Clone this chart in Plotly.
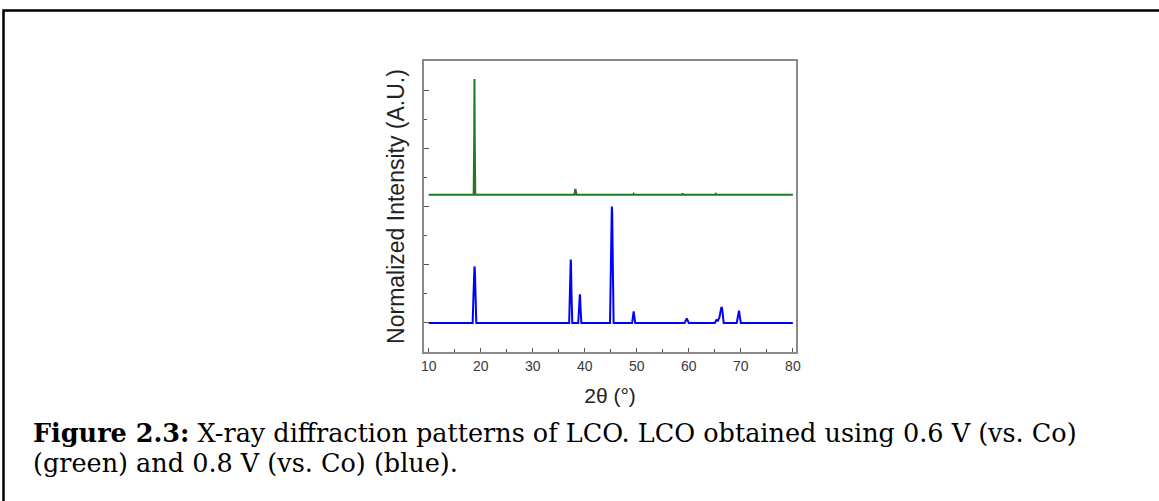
import plotly.graph_objects as go

# ---- data ----
two_theta_blue = [10.0, 18.45, 18.6, 18.72, 18.8, 18.88, 19.0, 19.15,
                  37.0, 37.15, 37.25, 37.3, 37.35, 37.45, 37.6,
                  38.75, 38.9, 39.0, 39.05, 39.1, 39.2, 39.35,
                  44.85, 45.0, 45.13, 45.2, 45.27, 45.4, 45.55,
                  49.1, 49.25, 49.4, 49.55, 49.7,
                  59.2, 59.4, 59.6, 59.8, 60.0,
                  65.0, 65.3, 65.6, 65.9, 66.2, 66.3, 66.4, 66.55, 66.7,
                  69.2, 69.4, 69.55, 69.65, 69.8, 70.0,
                  80.0]
intensity_blue = [0.0, 0.0, 0.45, 0.9, 0.97, 0.9, 0.45, 0.0,
                  0.0, 0.5, 1.02, 1.09, 1.02, 0.5, 0.0,
                  0.0, 0.24, 0.46, 0.49, 0.46, 0.24, 0.0,
                  0.0, 0.95, 1.9, 2.0, 1.9, 0.95, 0.0,
                  0.0, 0.1, 0.2, 0.1, 0.0,
                  0.0, 0.04, 0.075, 0.04, 0.0,
                  0.0, 0.05, 0.04, 0.1, 0.25, 0.27, 0.25, 0.1, 0.0,
                  0.0, 0.11, 0.21, 0.21, 0.11, 0.0,
                  0.0]

two_theta_green = [10.0, 18.65, 18.75, 18.8, 18.85, 18.95,
                   38.0, 38.1, 38.2, 38.3, 38.4,
                   49.3, 49.4, 49.5,
                   58.7, 58.8, 58.9,
                   65.1, 65.2, 65.3,
                   80.0]
intensity_green = [0.0, 0.0, 1.0, 1.99, 1.0, 0.0,
                   0.0, 0.06, 0.1, 0.06, 0.0,
                   0.0, 0.015, 0.0,
                   0.0, 0.025, 0.0,
                   0.0, 0.015, 0.0,
                   0.0]
green_offset = 2.2

x_ticks = [10, 20, 30, 40, 50, 60, 70, 80]
x_title = "2θ (°)"
y_title = "Normalized Intensity (A.U.)"
caption_line1 = "<b>Figure 2.3:</b> X-ray diffraction patterns of LCO. LCO obtained using 0.6 V (vs. Co)"
caption_line2 = "(green) and 0.8 V (vs. Co) (blue)."

# ---- layout geometry (pixels) ----
W, H = 1159, 501
ML, MR, MT, MB = 424, 363, 61, 149
PW = W - ML - MR
PH = H - MT - MB


def px(x):
    return (x - ML) / PW


def py(y):
    return (H - MB - y) / PH


fig = go.Figure()
fig.add_trace(go.Scatter(
    x=two_theta_green,
    y=[v + green_offset for v in intensity_green],
    mode="lines", line=dict(color="#1f7a1f", width=2),
    showlegend=False, hoverinfo="skip"))
fig.add_trace(go.Scatter(
    x=two_theta_blue, y=intensity_blue,
    mode="lines", line=dict(color="#0000ff", width=2),
    showlegend=False, hoverinfo="skip"))

axis_common = dict(showline=True, linecolor="#8a8a8a", linewidth=2,
                   mirror=True, showgrid=False, zeroline=False,
                   ticks="inside", tickcolor="#555555", tickwidth=1)

fig.update_xaxes(range=[9.1, 80.6], tickvals=x_ticks, ticklen=4,
                 minor=dict(dtick=5, tick0=0, ticks="inside", ticklen=3,
                            tickcolor="#555555", showgrid=False),
                 tickfont=dict(family="Liberation Sans", size=14, color="#3a3a3a"),
                 title=dict(text=x_title, standoff=16,
                            font=dict(family="Liberation Sans", size=21, color="#222222")),
                 automargin=False, **axis_common)
fig.update_yaxes(range=[-0.5, 4.5], dtick=1, tick0=0, ticklen=5,
                 showticklabels=False,
                 minor=dict(dtick=0.5, tick0=0, ticks="inside", ticklen=3,
                            tickcolor="#555555", showgrid=False),
                 title=dict(text=y_title, standoff=11,
                            font=dict(family="Liberation Sans", size=23, color="#222222")),
                 automargin=False, **axis_common)

# outer frame (left and top edges)
fig.add_shape(type="path", xref="paper", yref="paper",
              path=f"M {px(3.5)},{py(H + 5)} L {px(3.5)},{py(10.5)} L {px(W + 5)},{py(10.5)}",
              line=dict(color="black", width=2.5))

fig.add_annotation(xref="paper", yref="paper", x=px(31), y=py(433),
                   xanchor="left", yanchor="middle", showarrow=False,
                   text=caption_line1,
                   font=dict(family="DejaVu Serif", size=25.5, color="black"))
fig.add_annotation(xref="paper", yref="paper", x=px(31), y=py(463),
                   xanchor="left", yanchor="middle", showarrow=False,
                   text=caption_line2,
                   font=dict(family="DejaVu Serif", size=25.5, color="black"))

fig.update_layout(width=W, height=H, margin=dict(l=ML, r=MR, t=MT, b=MB),
                  paper_bgcolor="white", plot_bgcolor="white")

fig.write_html("out.html", config={"displayModeBar": False},
               post_script="document.body.style.margin='0px';document.body.style.overflow='hidden';")
